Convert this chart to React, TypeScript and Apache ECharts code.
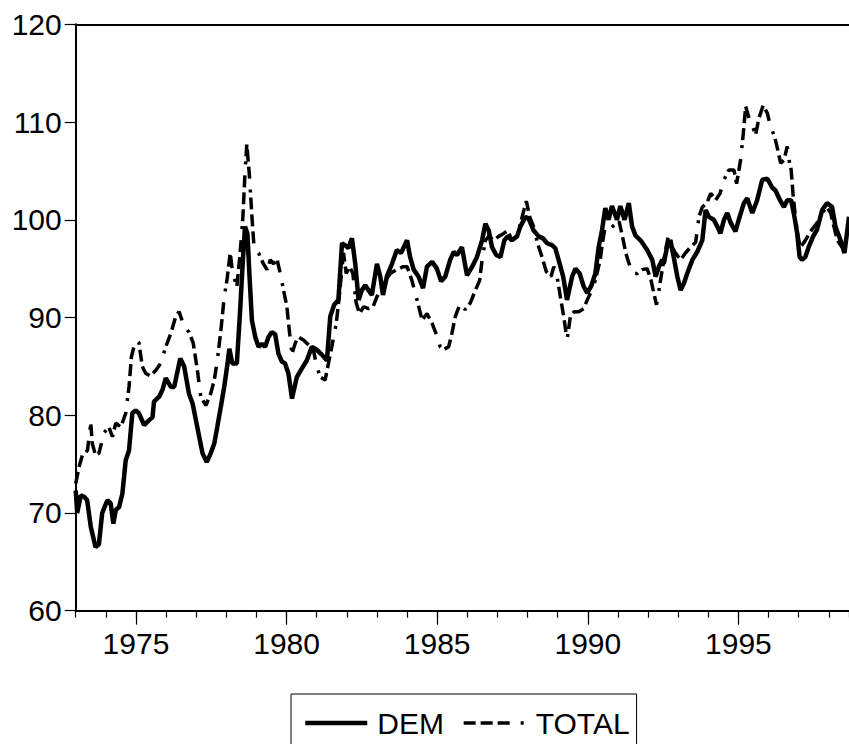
import React, { useEffect, useRef } from "react";
import * as echarts from "echarts";

// Time axis (decimal years)
const X_MIN = 1973;
const X_MAX = 1998.67;
const MAJOR_YEARS = [1975, 1980, 1985, 1990, 1995];
const Y_MIN = 60;
const Y_MAX = 120;
const Y_STEP = 10;

// DEM series
const demYears = [
  1973.0, 1973.05, 1973.17, 1973.3, 1973.38, 1973.5, 1973.66, 1973.77, 1973.88, 1974.05,
  1974.16, 1974.25, 1974.33, 1974.44, 1974.55, 1974.66, 1974.77, 1974.88, 1974.99, 1975.1,
  1975.27, 1975.44, 1975.55, 1975.6, 1975.77, 1975.88, 1975.99, 1976.16, 1976.27, 1976.47,
  1976.6, 1976.76, 1976.88, 1976.99, 1977.1, 1977.21, 1977.35, 1977.48, 1977.6, 1977.7,
  1977.82, 1977.93, 1978.04, 1978.1, 1978.2, 1978.35, 1978.46, 1978.55, 1978.62, 1978.7,
  1978.77, 1978.85, 1978.96, 1979.07, 1979.18, 1979.29, 1979.4, 1979.51, 1979.62, 1979.73,
  1979.84, 1979.95, 1980.06, 1980.18, 1980.34, 1980.51, 1980.67, 1980.84, 1981.0, 1981.17,
  1981.34, 1981.45, 1981.58, 1981.72, 1981.84, 1981.98, 1982.05, 1982.17, 1982.28, 1982.39,
  1982.5, 1982.61, 1982.72, 1982.83, 1983.0, 1983.11, 1983.2, 1983.33, 1983.5, 1983.66,
  1983.8, 1984.0, 1984.1, 1984.22, 1984.38, 1984.53, 1984.66, 1984.83, 1984.99, 1985.13,
  1985.27, 1985.43, 1985.55, 1985.66, 1985.82, 1985.99, 1986.16, 1986.32, 1986.49, 1986.6,
  1986.71, 1986.82, 1986.96, 1987.1, 1987.23, 1987.34, 1987.48, 1987.65, 1987.76, 1987.93,
  1988.04, 1988.2, 1988.37, 1988.51, 1988.65, 1988.81, 1988.92, 1989.03, 1989.18, 1989.31,
  1989.48, 1989.59, 1989.73, 1989.86, 1989.98, 1990.11, 1990.25, 1990.36, 1990.47, 1990.58,
  1990.69, 1990.8, 1990.97, 1991.08, 1991.22, 1991.36, 1991.47, 1991.58, 1991.75, 1991.97,
  1992.14, 1992.25, 1992.36, 1992.47, 1992.52, 1992.63, 1992.74, 1992.85, 1992.97, 1993.08,
  1993.19, 1993.3, 1993.47, 1993.63, 1993.8, 1993.91, 1994.02, 1994.18, 1994.3, 1994.4,
  1994.52, 1994.63, 1994.74, 1994.9, 1995.01, 1995.18, 1995.29, 1995.46, 1995.62, 1995.79,
  1995.96, 1996.12, 1996.23, 1996.38, 1996.51, 1996.62, 1996.75, 1996.86, 1996.95, 1997.03,
  1997.11, 1997.22, 1997.33, 1997.48, 1997.61, 1997.78, 1997.94, 1998.11, 1998.22, 1998.39,
  1998.52, 1998.67,
];
const demValues = [
  72.3, 70.0, 71.8, 71.6, 71.3, 68.6, 66.5, 66.8, 70.0, 71.3,
  71.0, 68.9, 70.3, 70.6, 72.0, 75.4, 76.4, 80.2, 80.5, 80.2,
  79.0, 79.5, 79.8, 81.4, 81.9, 82.6, 83.8, 82.9, 82.9, 85.8,
  85.0, 82.2, 81.2, 79.5, 77.8, 76.1, 75.2, 76.1, 77.1, 78.8,
  80.9, 82.9, 85.3, 86.8, 85.3, 85.3, 90.8, 95.9, 99.3, 98.6,
  94.2, 89.7, 88.0, 87.0, 87.3, 87.0, 88.0, 88.5, 88.3, 86.3,
  85.5, 85.3, 84.3, 81.7, 83.9, 84.8, 85.6, 87.0, 86.7, 86.2,
  85.6, 90.1, 91.3, 91.8, 97.6, 97.3, 97.1, 98.1, 95.5, 91.8,
  92.8, 93.3, 92.8, 92.3, 95.5, 94.2, 92.3, 94.2, 95.5, 96.9,
  96.6, 97.9, 96.2, 94.9, 94.2, 93.0, 95.2, 95.7, 95.0, 93.7,
  94.2, 95.9, 96.7, 96.4, 97.2, 94.3, 95.2, 96.2, 97.9, 99.6,
  98.9, 97.2, 96.4, 96.2, 97.9, 98.3, 97.9, 98.3, 99.3, 100.3,
  100.1, 98.9, 98.3, 98.1, 97.6, 97.4, 97.1, 95.9, 94.2, 91.8,
  94.2, 95.0, 94.5, 93.2, 92.5, 93.2, 94.5, 97.2, 98.9, 101.2,
  100.0, 101.4, 100.0, 101.4, 100.0, 101.7, 99.3, 98.4, 97.9, 96.9,
  95.9, 94.2, 95.2, 95.9, 95.5, 97.2, 97.9, 96.2, 94.2, 92.8,
  93.5, 94.5, 95.9, 96.7, 97.9, 101.0, 100.3, 100.0, 99.3, 98.6,
  100.0, 100.7, 99.7, 98.8, 100.0, 101.7, 102.2, 100.7, 102.0, 104.1,
  104.2, 103.3, 103.0, 102.0, 101.3, 102.0, 102.0, 100.3, 98.6, 96.2,
  95.9, 96.2, 97.2, 98.3, 99.0, 101.0, 101.7, 101.3, 99.3, 97.9,
  96.6, 100.3,
];

// TOTAL series
const totalYears = [
  1973.0, 1973.11, 1973.22, 1973.39, 1973.5, 1973.55, 1973.66, 1973.77, 1973.94, 1974.1,
  1974.22, 1974.33, 1974.5, 1974.66, 1974.77, 1974.85, 1974.99, 1975.1, 1975.21, 1975.32,
  1975.49, 1975.66, 1975.82, 1975.99, 1976.16, 1976.32, 1976.43, 1976.6, 1976.76, 1976.9,
  1977.04, 1977.15, 1977.32, 1977.48, 1977.6, 1977.7, 1977.82, 1977.93, 1978.02, 1978.13,
  1978.21, 1978.35, 1978.46, 1978.55, 1978.62, 1978.68, 1978.77, 1978.85, 1978.92, 1979.07,
  1979.23, 1979.35, 1979.46, 1979.57, 1979.68, 1979.79, 1979.9, 1980.01, 1980.1, 1980.18,
  1980.29, 1980.4, 1980.56, 1980.73, 1980.89, 1981.0, 1981.12, 1981.28, 1981.39, 1981.5,
  1981.65, 1981.76, 1981.89, 1981.98, 1982.09, 1982.2, 1982.31, 1982.42, 1982.56, 1982.72,
  1982.87, 1983.05, 1983.22, 1983.44, 1983.66, 1983.88, 1984.0, 1984.16, 1984.33, 1984.5,
  1984.66, 1984.83, 1984.97, 1985.1, 1985.21, 1985.38, 1985.49, 1985.6, 1985.77, 1985.93,
  1986.1, 1986.27, 1986.41, 1986.49, 1986.6, 1986.71, 1986.87, 1987.04, 1987.21, 1987.34,
  1987.48, 1987.65, 1987.82, 1987.96, 1988.07, 1988.2, 1988.33, 1988.48, 1988.62, 1988.78,
  1988.87, 1988.98, 1989.09, 1989.2, 1989.31, 1989.42, 1989.55, 1989.7, 1989.86, 1989.98,
  1990.09, 1990.25, 1990.41, 1990.5, 1990.58, 1990.75, 1990.89, 1991.04, 1991.15, 1991.26,
  1991.37, 1991.5, 1991.64, 1991.8, 1991.97, 1992.1, 1992.19, 1992.28, 1992.36, 1992.47,
  1992.58, 1992.69, 1992.8, 1992.91, 1993.08, 1993.24, 1993.41, 1993.58, 1993.69, 1993.8,
  1993.95, 1994.08, 1994.24, 1994.39, 1994.52, 1994.68, 1994.85, 1994.94, 1995.07, 1995.16,
  1995.24, 1995.35, 1995.46, 1995.57, 1995.68, 1995.82, 1995.96, 1996.06, 1996.2, 1996.31,
  1996.4, 1996.51, 1996.62, 1996.68, 1996.75, 1996.81, 1996.89, 1996.96, 1997.05, 1997.16,
  1997.3, 1997.44, 1997.61, 1997.78, 1997.93, 1998.06, 1998.17, 1998.28, 1998.44, 1998.61,
  1998.67,
];
const totalValues = [
  73.0, 74.7, 75.9, 76.4, 79.2, 77.1, 75.9, 76.1, 78.2, 78.8,
  77.8, 79.2, 78.8, 80.2, 82.9, 86.0, 87.7, 87.4, 85.0, 84.3,
  84.0, 84.6, 85.3, 87.0, 88.4, 90.1, 90.6, 89.1, 88.5, 87.4,
  84.6, 81.9, 81.0, 82.2, 83.6, 85.6, 88.7, 92.1, 93.8, 96.6,
  94.5, 93.2, 96.6, 100.3, 104.8, 107.7, 104.4, 100.3, 97.2, 96.6,
  95.5, 94.9, 95.9, 95.5, 96.0, 94.5, 92.8, 91.1, 88.4, 86.3,
  87.4, 88.0, 87.7, 87.2, 86.7, 85.0, 83.9, 83.6, 85.3, 87.0,
  89.4, 92.5, 96.6, 94.5, 95.2, 94.5, 91.5, 90.4, 91.1, 90.9,
  91.1, 92.5, 93.5, 94.5, 94.9, 95.2, 95.2, 93.8, 91.8, 89.7,
  90.4, 89.4, 88.3, 87.0, 86.7, 87.0, 88.4, 90.1, 91.5, 90.8,
  91.5, 92.8, 93.8, 95.9, 97.9, 98.3, 97.9, 98.3, 98.6, 98.9,
  97.9, 98.3, 100.3, 101.9, 100.3, 99.3, 97.6, 96.2, 94.7, 94.2,
  95.2, 94.2, 92.1, 90.1, 87.7, 90.1, 90.6, 90.6, 90.9, 91.8,
  92.5, 93.8, 95.9, 97.9, 99.3, 99.1, 99.5, 99.8, 98.3, 96.6,
  95.5, 94.5, 94.5, 94.9, 95.0, 93.8, 92.5, 91.3, 92.8, 94.9,
  96.9, 98.6, 97.2, 96.6, 95.9, 96.6, 97.2, 97.7, 100.3, 101.3,
  101.7, 102.7, 102.0, 102.7, 104.1, 105.1, 105.1, 103.7, 106.1, 108.8,
  111.6, 110.4, 109.6, 108.7, 110.4, 111.7, 110.9, 109.6, 108.5, 107.1,
  105.8, 106.1, 107.5, 106.1, 105.1, 102.7, 100.3, 98.6, 97.2, 97.6,
  98.3, 99.0, 99.7, 100.7, 101.3, 100.7, 99.3, 97.9, 97.2, 98.3,
  98.6,
];

const FONT = "'Liberation Sans', Arial, Helvetica, sans-serif";
const DEM_WIDTH = 4.5;
const TOTAL_WIDTH = 3.5;
const TOTAL_DASH = [12, 5, 12, 5, 12, 11, 3, 5];

function zip(xs: number[], ys: number[]) {
  return xs.map((x, i) => [x, ys[i]]);
}

export default function App() {
  const ref = useRef<HTMLDivElement>(null);

  useEffect(() => {
    if (!ref.current) return;
    const chart = echarts.init(ref.current, null, { renderer: "svg" });
    const gridBox = { left: 75.7, top: 24.3, right: 0, bottom: 133.3, show: false };
    chart.setOption({
      animation: false,
      backgroundColor: "#ffffff",
      grid: [{ ...gridBox }, { ...gridBox }],
      xAxis: [
        {
          type: "value",
          gridIndex: 0,
          position: "bottom",
          min: X_MIN,
          max: X_MAX,
          axisLine: { show: true, onZero: false, lineStyle: { color: "#000", width: 2 } },
          axisTick: {
            show: true,
            customValues: MAJOR_YEARS,
            length: 14,
            lineStyle: { color: "#000", width: 1.2 },
          },
          axisLabel: {
            show: true,
            customValues: MAJOR_YEARS,
            margin: 18,
            fontSize: 30,
            color: "#000",
            fontFamily: FONT,
            formatter: (v: number) => String(Math.round(v)),
          },
          splitLine: { show: false },
        },
        {
          type: "value",
          gridIndex: 0,
          position: "top",
          min: X_MIN,
          max: X_MAX,
          axisLine: { show: true, onZero: false, lineStyle: { color: "#000", width: 2 } },
          axisTick: { show: false },
          axisLabel: { show: false },
          splitLine: { show: false },
        },
        {
          type: "value",
          gridIndex: 1,
          position: "bottom",
          min: X_MIN,
          max: X_MAX,
          interval: 1,
          axisLine: { show: false, onZero: false },
          axisTick: { show: true, length: 7, lineStyle: { color: "#000", width: 1.2 } },
          axisLabel: { show: false },
          splitLine: { show: false },
        },
      ],
      yAxis: [
        {
          type: "value",
          gridIndex: 0,
          min: Y_MIN,
          max: Y_MAX,
          interval: Y_STEP,
          axisLine: { show: true, onZero: false, lineStyle: { color: "#000", width: 2 } },
          axisTick: { show: true, length: 11, lineStyle: { color: "#000", width: 1.2 } },
          axisLabel: { margin: 14, fontSize: 30, color: "#000", fontFamily: FONT },
          splitLine: { show: false },
        },
        {
          type: "value",
          gridIndex: 1,
          min: Y_MIN,
          max: Y_MAX,
          show: false,
        },
      ],
      legend: {
        left: 291,
        top: 694,
        orient: "horizontal",
        data: [
          { name: "DEM", lineStyle: { width: DEM_WIDTH, color: "#000" } },
          { name: "TOTAL", lineStyle: { width: TOTAL_WIDTH, color: "#000", type: TOTAL_DASH } },
        ],
        itemWidth: 62,
        itemHeight: 14,
        itemGap: 18,
        itemStyle: { opacity: 0, borderWidth: 0 },
        borderColor: "#000",
        borderWidth: 1,
        borderRadius: 0,
        padding: [14, 7, 14, 12],
        selectedMode: false,
        textStyle: { fontSize: 30, color: "#000", fontFamily: FONT, padding: [0, 0, 0, 5] },
      },
      series: [
        {
          name: "TOTAL",
          type: "line",
          xAxisIndex: 0,
          yAxisIndex: 0,
          data: zip(totalYears, totalValues),
          symbol: "none",
          showSymbol: false,
          lineStyle: { color: "#000", width: TOTAL_WIDTH, type: TOTAL_DASH },
          itemStyle: { color: "#000" },
        },
        {
          name: "DEM",
          type: "line",
          xAxisIndex: 0,
          yAxisIndex: 0,
          data: zip(demYears, demValues),
          symbol: "none",
          showSymbol: false,
          lineStyle: { color: "#000", width: DEM_WIDTH },
          itemStyle: { color: "#000" },
        },
      ],
    });
    return () => chart.dispose();
  }, []);

  return (
    <div
      ref={ref}
      style={{ position: "fixed", left: 0, top: 0, width: 849, height: 744, background: "#fff" }}
    />
  );
}
